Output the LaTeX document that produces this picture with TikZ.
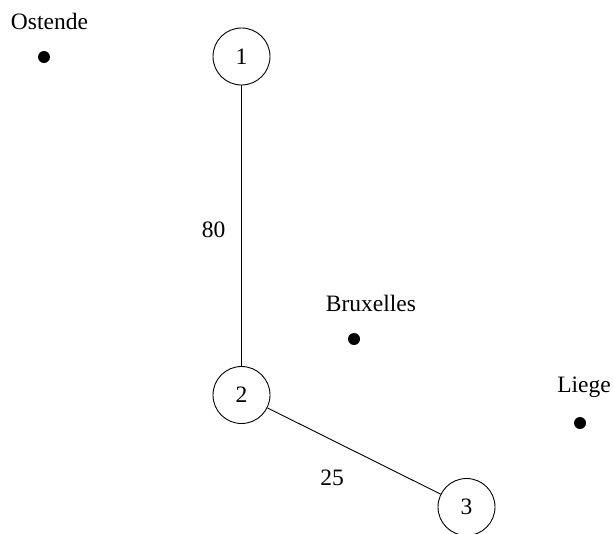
\documentclass[tikz,border=0pt]{standalone}
\usepackage{fontspec}
\setmainfont{Liberation Serif}
\begin{document}
\begin{tikzpicture}[x=1pt,y=-1pt,
  every node/.style={font=\fontsize{23.5}{28}\selectfont, inner sep=0pt},
  station/.style={circle, draw, line width=0.9pt, minimum size=57pt},
  city/.style={circle, fill=black, minimum size=12pt},
  link/.style={line width=0.9pt},
  cityname/.style={},
  weight/.style={}]
\useasboundingbox (0,0) rectangle (613,533);
\clip (0,0) rectangle (613,533);
% stations
\node[station] (n1) at (241.5,56.5) {1};
\node[station] (n2) at (241.5,395) {2};
\node[station] (n3) at (466.5,507) {3};
% cities
\node[city] (ostende) at (44,57) {};
\node[cityname] (ostendeL) at (49.5,21) {Ostende};
\node[city] (bruxelles) at (354,339) {};
\node[cityname] (bruxellesL) at (371,303) {Bruxelles};
\node[city] (liege) at (580,423) {};
\node[cityname] (liegeL) at (584,387) {Liege};
% links with weights
\draw[link] (n1) -- (n2);
\draw[link] (n2) -- (n3);
\node[weight] (w12) at (213.5,230) {80};
\node[weight] (w23) at (332,478) {25};
\end{tikzpicture}
\end{document}
